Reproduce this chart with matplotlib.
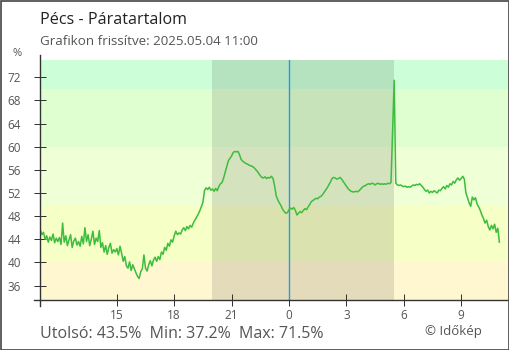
import matplotlib.pyplot as plt
from matplotlib.patches import Rectangle

# relative humidity (%), 5 minute steps from 11:00 (hour -13) to 11:00 next day
hours_start = -13
humidity = [
    45.6, 44.8, 45.2, 44.0, 44.6, 43.5, 44.4, 43.8, 44.9, 43.4, 44.2, 43.6,
    44.3, 43.1, 46.8, 43.5, 44.6, 42.9, 43.9, 44.8, 42.6, 43.7, 44.2, 43.0,
    43.6, 42.8, 44.5, 43.2, 46.0, 43.6, 44.8, 42.9, 44.0, 45.4, 43.1, 44.2,
    43.6, 45.5, 42.6, 43.4, 41.8, 42.9, 41.4, 42.6, 43.3, 41.6, 42.2, 41.8,
    42.4, 41.3, 42.8, 41.6, 40.2, 41.0, 39.4, 39.0, 40.1, 38.6, 39.6, 38.9,
    38.2, 37.6, 37.2, 38.4, 38.9, 41.3, 39.0, 38.5, 39.6, 40.3, 39.4, 40.4,
    40.9, 40.2, 41.0, 40.5, 41.8, 41.4, 42.6, 42.1, 43.3, 42.8, 43.9, 43.5,
    44.6, 45.4, 44.8, 45.1, 44.9, 45.6, 46.0, 45.5, 46.2, 45.8, 46.4, 46.1,
    46.8, 47.3, 47.8, 48.3, 48.9, 49.6, 50.4, 52.4, 52.9, 52.6, 53.0, 52.5,
    52.7, 52.3, 52.8, 52.4, 53.1, 53.6, 53.8, 54.6, 55.6, 56.6, 57.6, 58.0,
    58.4, 59.0, 59.2, 59.1, 59.2, 58.6, 57.8, 57.5, 57.3, 57.1, 57.0, 56.8,
    56.7, 56.6, 56.4, 56.1, 55.8, 55.4, 55.0, 54.7, 54.6, 54.8, 54.5, 54.7,
    54.6, 54.9, 54.5, 53.2, 51.5, 50.8, 50.3, 49.8, 49.2, 48.8, 48.5, 48.6,
    49.1, 49.4, 49.2, 49.5, 49.0, 48.2, 48.5, 48.8, 48.6, 49.0, 49.3, 49.1,
    49.6, 50.0, 50.5, 50.7, 50.9, 51.1, 51.0, 51.3, 51.4, 51.7, 52.1, 52.5,
    52.9, 53.4, 53.9, 54.5, 54.7, 54.6, 54.4, 54.5, 54.7, 54.4, 54.0, 53.6,
    53.2, 52.8, 52.5, 52.3, 52.2, 52.2, 52.3, 52.2, 52.4, 52.7, 53.0, 53.2,
    53.3, 53.5, 53.6, 53.5, 53.7, 53.6, 53.4, 53.6, 53.7, 53.5, 53.6, 53.5,
    53.6, 53.5, 53.7, 53.6, 53.8, 62.4, 71.5, 53.7, 53.4, 53.3, 53.4, 53.2,
    53.1, 53.2, 53.0, 53.1, 53.0, 53.2, 53.4, 53.3, 53.5, 53.4, 53.6, 53.3,
    53.0, 52.6, 52.3, 52.5, 52.0, 52.3, 52.1, 52.4, 52.2, 52.0, 52.5, 52.4,
    52.8, 53.1, 52.7, 53.3, 53.0, 53.6, 53.4, 54.0, 53.7, 54.3, 54.6, 54.2,
    54.5, 54.9, 54.4, 52.0, 51.2, 50.3, 49.7, 51.3, 50.8, 51.2, 50.1, 49.6,
    49.0, 48.2, 47.6, 46.8, 47.3, 46.2, 45.6, 46.4, 45.8, 46.6, 45.2, 45.9,
    43.5,
]
hours = [hours_start + i / 12 for i in range(len(humidity))]

xtick_pos = [-9, -6, -3, 0, 3, 6, 9]
xtick_labels = ['15', '18', '21', '0', '3', '6', '9']
ytick_pos = [36, 40, 44, 48, 52, 56, 60, 64, 68, 72]

bands = [(0, 40, '#fff7d0'), (40, 50, '#f5ffc6'), (50, 60, '#efffd6'),
         (60, 70, '#e0ffd0'), (70, 100, '#ccffd8')]
sunset, sunrise = -4.0, 5.47

plt.rcParams['font.family'] = ['Open Sans', 'DejaVu Sans']

fig = plt.figure(figsize=(5.1, 3.5), dpi=100)
W, H = 510, 350
ax = fig.add_axes([40.3 / W, 50 / H, (508 - 40.3) / W, 240 / H])

for lo, hi, c in bands:
    ax.axhspan(lo, hi, color=c, lw=0, zorder=0)
ax.axvspan(sunset, sunrise, color='k', alpha=0.11, lw=0, zorder=1)
ax.axvline(0, color='#2299ee', lw=1, zorder=2)
ax.plot(hours, humidity, color='#3dbd3d', lw=1.1, zorder=3)

ax.set_xlim(-13, 11.45)
ax.set_ylim(33.5, 75)
for s in ax.spines.values():
    s.set_visible(False)

# axis lines slightly overshooting the plot area
ax.plot([-6 / 467.7, 1], [0, 0], transform=ax.transAxes, color='#333333',
        lw=1, clip_on=False, zorder=5)
ax.plot([0, 0], [-6 / 240, 1 + 5 / 240], transform=ax.transAxes, color='#333333',
        lw=1, clip_on=False, zorder=5)

ax.set_xticks(xtick_pos)
ax.set_xticklabels(xtick_labels)
ax.set_yticks(ytick_pos)
ax.tick_params(direction='inout', length=8.6, width=0.72, color='#333333',
               labelcolor='#555555', labelsize=8.5)
ax.tick_params(axis='y', pad=9.5)
ax.tick_params(axis='x', pad=2)

fig.text(40.5 / W, 1 - 24 / H, 'Pécs - Páratartalom', fontsize=11.6,
         color='#222222', va='baseline')
fig.text(40.5 / W, 1 - 45 / H, 'Grafikon frissítve: 2025.05.04 11:00',
         fontsize=9.6, color='#555555', va='baseline')
fig.text(17 / W, 1 - 55.5 / H, '%', fontsize=8, color='#555555',
         va='baseline', ha='center')
fig.text(40.5 / W, 1 - 338 / H, 'Utolsó: 43.5%  Min: 37.2%  Max: 71.5%',
         fontsize=11.5, color='#555555', va='baseline')
fig.text(425 / W, 1 - 335.5 / H, '© Időkép', fontsize=9.5,
         color='#555555', va='baseline')

fig.patches.append(Rectangle((0.5 / W, 0.5 / H), 1 - 1.5 / W, 1 - 1.5 / H,
                             transform=fig.transFigure, fill=False,
                             edgecolor='#444444', lw=1.2))

fig.savefig('out.png', dpi=100)
